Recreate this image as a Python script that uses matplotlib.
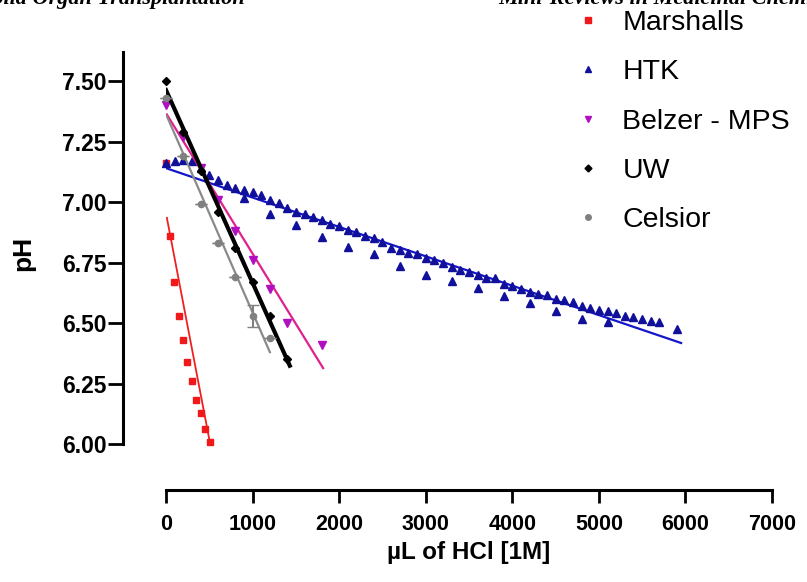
import numpy as np
import matplotlib.pyplot as plt
from matplotlib.lines import Line2D

plt.rcParams['font.family'] = ['Liberation Sans', 'DejaVu Sans']

# data (uL of 1M HCl vs pH)
marsh_x = [0, 50, 90, 150, 195, 240, 295, 345, 400, 450, 505]
marsh_ph = [7.16, 6.86, 6.67, 6.53, 6.43, 6.34, 6.26, 6.18, 6.13, 6.06, 6.01]

htk_x = [0, 100, 200, 300, 400, 500, 600, 700, 800, 900, 1000, 1100, 1200,
         1300, 1400, 1500, 1600, 1700, 1800, 1900, 2000, 2100, 2200, 2300,
         2400, 2500, 2600, 2700, 2800, 2900, 3000, 3100, 3200, 3300, 3400,
         3500, 3600, 3700, 3800, 3900, 4000, 4100, 4200, 4300, 4400, 4500,
         4600, 4700, 4800, 4900, 5000, 5100, 5200, 5300, 5400, 5500, 5600,
         5700]
htk_ph = [7.16, 7.17, 7.175, 7.17, 7.14, 7.11, 7.09, 7.07, 7.06, 7.05, 7.04,
          7.03, 7.01, 6.995, 6.975, 6.96, 6.95, 6.94, 6.925, 6.91, 6.90, 6.885,
          6.875, 6.86, 6.85, 6.835, 6.81, 6.80, 6.79, 6.785, 6.77, 6.76, 6.75,
          6.73, 6.72, 6.71, 6.70, 6.685, 6.685, 6.66, 6.655, 6.64, 6.63, 6.62,
          6.615, 6.60, 6.595, 6.585, 6.57, 6.56, 6.555, 6.55, 6.54, 6.53,
          6.525, 6.515, 6.51, 6.505]
htk_x2 = [900, 1200, 1500, 1800, 2100, 2400, 2700, 3000, 3300, 3600, 3900,
          4200, 4500, 4800, 5100, 5900]
htk_ph2 = [7.015, 6.95, 6.905, 6.857, 6.815, 6.784, 6.735, 6.698, 6.674,
           6.643, 6.612, 6.584, 6.549, 6.517, 6.503, 6.474]

belz_x = [0, 200, 400, 600, 800, 1000, 1200, 1400, 1800]
belz_ph = [7.40, 7.27, 7.14, 7.01, 6.88, 6.76, 6.64, 6.50, 6.41]

uw_x = [0, 200, 400, 600, 800, 1000, 1200, 1400]
uw_ph = [7.50, 7.29, 7.13, 6.96, 6.81, 6.67, 6.53, 6.35]

cel_x = [0, 200, 400, 600, 800, 1000, 1200]
cel_ph = [7.43, 7.19, 6.99, 6.83, 6.69, 6.53, 6.44]
cel_err = [0, 0, 0, 0, 0, 0.045, 0]

fig = plt.figure(figsize=(8.07, 5.82), dpi=100)
ax = fig.add_axes([166 / 807, 138 / 582, 606 / 807, 392 / 582])
px = 72 / 100  # one pixel in points


def fit_line(x, y, x0, x1, **kw):
    k, b = np.polyfit(x, y, 1)
    xx = np.array([x0, x1])
    ax.plot(xx, k * xx + b, **kw)


# Marshalls: line through the first and last titration points (x=0 point is the start pH)
fit_line([marsh_x[1], marsh_x[-1]], [marsh_ph[1], marsh_ph[-1]], 10, marsh_x[-1],
         color='#f02020', lw=1.3)
ax.plot(marsh_x, marsh_ph, 's', color='#f01818', ms=4.5, clip_on=False)

# HTK
hx = np.array(htk_x + htk_x2)
hy = np.array(htk_ph + htk_ph2)
fit_line(hx, hy, 0, hx.max() + 50, color='#1515cc', lw=1.6)
ax.plot(htk_x, htk_ph, '^', color='#10109a', ms=5.5, clip_on=False)
ax.plot(htk_x2, htk_ph2, '^', color='#10109a', ms=5.5, clip_on=False)

# Belzer - MPS
fit_line(belz_x, belz_ph, 10, belz_x[-1] + 15, color='#e0208c', lw=1.6)
ax.plot(belz_x, belz_ph, 'v', color='#b010c0', ms=5.5, clip_on=False)

# UW
fit_line(uw_x, uw_ph, 0, uw_x[-1] + 30, color='black', lw=3)
ax.plot(uw_x, uw_ph, 'D', color='black', ms=4, clip_on=False)

# Celsior
fit_line(cel_x, cel_ph, 10, cel_x[-1], color='#8a8a8a', lw=1.6)
ax.errorbar(cel_x, cel_ph, yerr=cel_err, fmt='o', color='#808080', ms=4.5,
            capsize=4, elinewidth=1.5, clip_on=False)

ax.set_xlim(0, 7000)
ax.set_ylim(6.0, 7.62)
ax.set_xticks(np.arange(0, 7001, 1000))
ax.set_yticks([6.00, 6.25, 6.50, 6.75, 7.00, 7.25, 7.50])
ax.set_yticklabels(['6.00', '6.25', '6.50', '6.75', '7.00', '7.25', '7.50'])

for s in ['top', 'right']:
    ax.spines[s].set_visible(False)
ax.spines['left'].set_position(('outward', 43 * px))
ax.spines['bottom'].set_position(('outward', 46 * px))
ax.spines['left'].set_bounds(6.0, 7.62)
ax.spines['bottom'].set_bounds(0, 7000)
ax.spines['left'].set_linewidth(2.2)
ax.spines['bottom'].set_linewidth(2.2)
ax.tick_params(axis='y', length=15 * px, width=2, pad=1, labelsize=16.5)
ax.tick_params(axis='x', length=13 * px, width=2, pad=11 * px, labelsize=15.5)
for lab in ax.get_xticklabels() + ax.get_yticklabels():
    lab.set_fontweight('bold')

ax.set_xlabel('\u00b5L of HCl [1M]', fontsize=17.5, fontweight='bold', labelpad=4)
ax.set_ylabel('pH', fontsize=19, fontweight='bold')
ax.yaxis.set_label_coords(-0.216, 0.485)

handles = [
    Line2D([], [], ls='none', marker='s', color='#f01818', ms=4.5),
    Line2D([], [], ls='none', marker='^', color='#10109a', ms=5),
    Line2D([], [], ls='none', marker='v', color='#b010c0', ms=5),
    Line2D([], [], ls='none', marker='D', color='black', ms=3.5),
    Line2D([], [], ls='none', marker='o', color='#808080', ms=4),
]
labels = ['Marshalls', 'HTK', 'Belzer - MPS', 'UW', 'Celsior']
fig.legend(handles, labels, loc='upper left', bbox_to_anchor=(574 / 807, 1 - 10 / 582),
           frameon=False, fontsize=20.5, handlelength=1.0, handletextpad=0.7,
           labelspacing=0.82, borderpad=0, borderaxespad=0)

# journal header, cut off at the top of the page
fig.text(245 / 807, 1 - 4 / 582, 'Solid Organ Transplantation', ha='right',
         va='baseline', family='Liberation Serif', style='italic',
         weight='bold', fontsize=16)
fig.text(498 / 807, 1 - 4 / 582, 'Mini-Reviews in Medicinal Chemistry', ha='left',
         va='baseline', family='Liberation Serif', style='italic',
         weight='bold', fontsize=16)

fig.savefig('out.png', dpi=100)
